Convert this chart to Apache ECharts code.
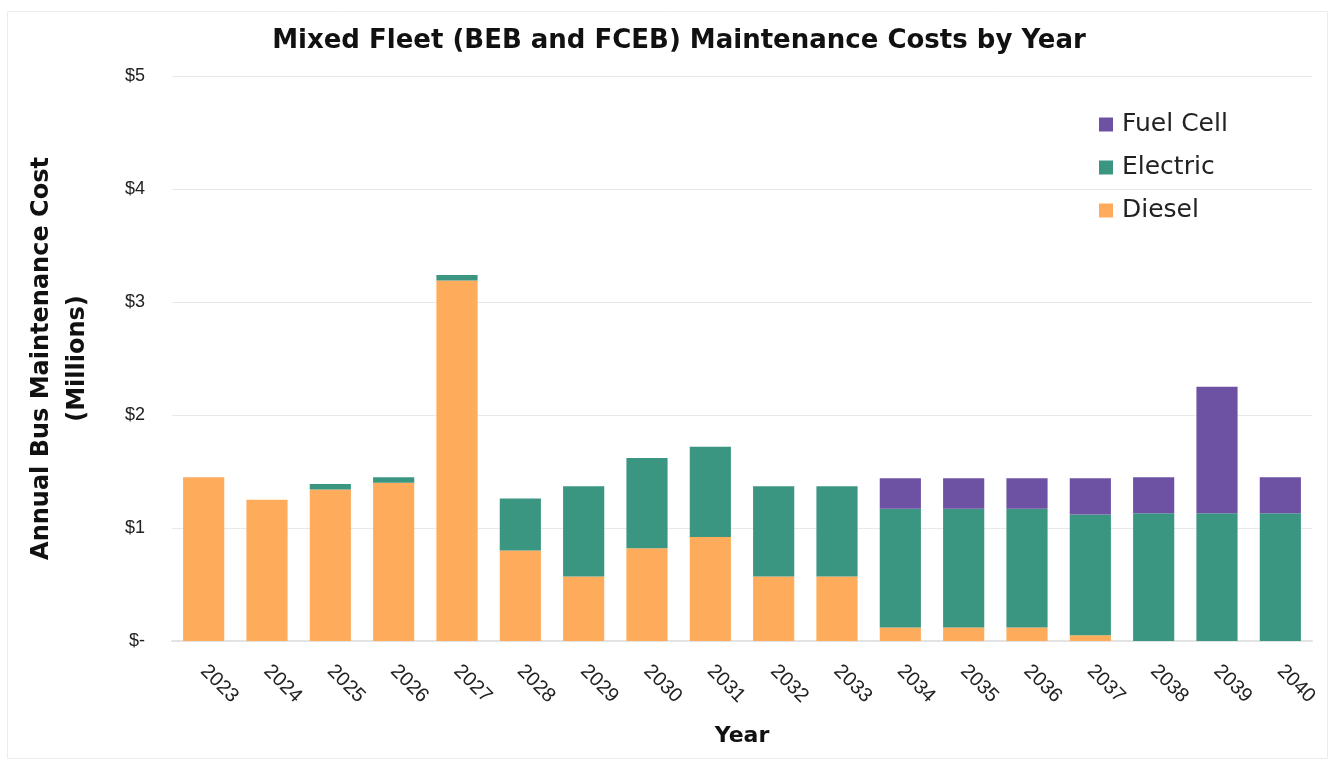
<!DOCTYPE html>
<html>
<head>
<meta charset="utf-8">
<script src="https://cdn.jsdelivr.net/npm/echarts@6/dist/echarts.min.js"></script>
<style>
  html, body { margin: 0; padding: 0; background: #fff; }
  #chart { width: 1334px; height: 764px; }
</style>
</head>
<body>
<div id="chart"></div>
<script>
// Fleet maintenance cost by year, in millions of dollars
const years = ['2023','2024','2025','2026','2027','2028','2029','2030','2031','2032','2033','2034','2035','2036','2037','2038','2039','2040'];
const diesel   = [1.45, 1.25, 1.34, 1.40, 3.19, 0.80, 0.57, 0.82, 0.92, 0.57, 0.57, 0.12, 0.12, 0.12, 0.05, 0, 0, 0];
const electric = [0, 0, 0.05, 0.05, 0.05, 0.46, 0.80, 0.80, 0.80, 0.80, 0.80, 1.05, 1.05, 1.05, 1.07, 1.13, 1.13, 1.13];
const fuelCell = [0, 0, 0, 0, 0, 0, 0, 0, 0, 0, 0, 0.27, 0.27, 0.27, 0.32, 0.32, 1.12, 0.32];
const yTicks = ['$-', '$1', '$2', '$3', '$4', '$5'];

const COLORS = { diesel: '#FEAC5C', electric: '#3A9680', fuel: '#6D52A4' };
const WIDE = '"DejaVu Sans", "Noto Sans", sans-serif';
const ARIAL = '"Liberation Sans", Arial, sans-serif';

const chart = echarts.init(document.getElementById('chart'));

function barSeries(name, data, color) {
  return {
    name: name,
    type: 'bar',
    stack: 'cost',
    data: data,
    barCategoryGap: '35%',
    itemStyle: { color: color },
    emphasis: { disabled: true }
  };
}

chart.setOption({
  animation: false,
  backgroundColor: '#fff',
  graphic: [{
    type: 'rect',
    shape: { x: 7.5, y: 11.5, width: 1320, height: 747 },
    style: { fill: 'none', stroke: '#ececec', lineWidth: 1 },
    silent: true
  }],
  title: {
    text: 'Mixed Fleet (BEB and FCEB) Maintenance Costs by Year',
    left: 674,
    textAlign: 'center',
    top: 23,
    textStyle: { fontFamily: WIDE, fontWeight: 'bold', fontSize: 26, color: '#111' }
  },
  legend: {
    orient: 'vertical',
    left: 1099,
    top: 112,
    padding: 0,
    itemWidth: 14,
    itemHeight: 14,
    itemGap: 18,
    icon: 'rect',
    data: ['Fuel Cell', 'Electric', 'Diesel'],
    textStyle: { fontFamily: WIDE, fontSize: 25, color: '#222', padding: [0, 0, 0, 4] }
  },
  grid: { left: 172, right: 22, top: 76, bottom: 123 },
  xAxis: {
    type: 'category',
    data: years,
    name: 'Year',
    nameLocation: 'middle',
    nameGap: 84,
    nameTextStyle: { fontFamily: WIDE, fontWeight: 'bold', fontSize: 22, color: '#111' },
    axisLine: { lineStyle: { color: '#e3e3e3', width: 2 } },
    axisTick: { show: false },
    axisLabel: {
      rotate: -45,
      margin: 27,
      interval: 0,
      fontFamily: ARIAL,
      fontSize: 20,
      color: '#222'
    }
  },
  yAxis: {
    type: 'value',
    min: 0,
    max: 5,
    interval: 1,
    name: 'Annual Bus Maintenance Cost\n(Millions)',
    nameLocation: 'middle',
    nameGap: 76,
    nameRotate: 90,
    nameTextStyle: { fontFamily: WIDE, fontWeight: 'bold', fontSize: 24, color: '#111', lineHeight: 36 },
    axisLine: { show: false },
    axisTick: { show: false },
    splitLine: { lineStyle: { color: '#e8e8e8', width: 1 } },
    axisLabel: {
      margin: 27,
      fontFamily: ARIAL,
      fontSize: 18,
      color: '#222',
      formatter: function (v) { return yTicks[Math.round(v)]; }
    }
  },
  series: [
    barSeries('Diesel', diesel, COLORS.diesel),
    barSeries('Electric', electric, COLORS.electric),
    barSeries('Fuel Cell', fuelCell, COLORS.fuel)
  ]
});
</script>
</body>
</html>
